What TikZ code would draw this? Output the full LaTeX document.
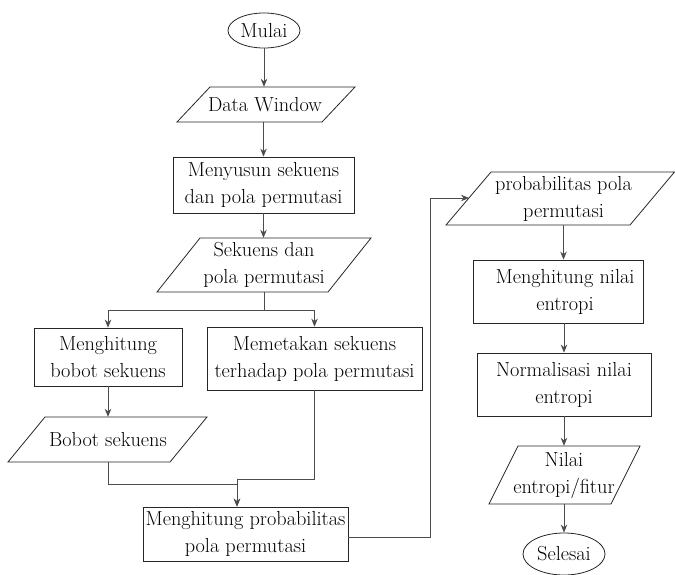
\documentclass[tikz,border=0pt]{standalone}
\usepackage{fontspec}
\usetikzlibrary{arrows.meta,shapes.geometric}
\begin{document}
\begin{tikzpicture}[x=1pt,y=-1pt,
  shp/.style={draw=black!85, line width=0.8pt},
  txt/.style={font=\rmfamily\fontsize{20.3}{27}\selectfont, align=center, inner sep=0pt},
  boxnode/.style={shp, txt, rectangle, minimum width=#1},
  conn/.style={draw=black!70, line width=0.8pt, -{Stealth[length=8pt,width=6.5pt]}},
  plain/.style={draw=black!70, line width=0.8pt}]
\useasboundingbox (0,0) rectangle (675,575);

% terminals
\node[shp, txt, ellipse, minimum width=72pt, minimum height=35pt] (mulai) at (264,30.5) {Mulai};
\node[shp, txt, ellipse, minimum width=82pt, minimum height=42pt] (selesai) at (564,554) {Selesai};

% process boxes
\node[boxnode=181pt, minimum height=56pt] (menyusun) at (263.5,185) {Menyusun sekuens\\dan pola permutasi};
\node[boxnode=148pt, minimum height=58pt] (bobot) at (108,357) {Menghitung\\bobot sekuens};
\node[boxnode=215pt, minimum height=63pt] (petakan) at (314.5,358.5) {Memetakan sekuens\\terhadap pola permutasi};
\node[boxnode=205pt, minimum height=54pt] (prob) at (245.5,534) {Menghitung probabilitas\\pola permutasi};
\node[shp, rectangle, minimum width=170pt, minimum height=63pt] (entropi) at (558,291.5) {};
\node[txt] (entropitxt) at (565,291.5) {Menghitung nilai\\entropi};
\node[boxnode=174pt, minimum height=63pt] (norm) at (564,384.5) {Normalisasi nilai\\entropi};

% data (parallelograms)
\draw[shp] (177,122) -- (210,87) -- (355,87) -- (322,122) -- cycle;
\node[txt, minimum height=35pt] (dw) at (265,104.5) {Data Window};
\draw[shp] (157,292) -- (200,238) -- (371,238) -- (328,292) -- cycle;
\node[txt, minimum height=54pt] (sek) at (264,265) {Sekuens dan\\pola permutasi};
\draw[shp] (8,462) -- (45,417) -- (207,417) -- (170,462) -- cycle;
\node[txt, minimum height=45pt] (bs) at (108,439.5) {Bobot sekuens};
\draw[shp] (446,225) -- (491,172) -- (674.5,172) -- (630,225) -- cycle;
\node[txt, minimum height=53pt] (pp) at (563.5,198.5) {probabilitas pola\\permutasi};
\draw[shp] (489,504) -- (518,446) -- (640,446) -- (611,504) -- cycle;
\node[txt, minimum height=58pt] (nilai) at (564,475) {Nilai\\entropi/fitur};

% junctions
\coordinate (split) at (264,310);
\coordinate (jb) at (237,484);
\coordinate (jm) at (237,479);
\coordinate (r1) at (430,537);
\coordinate (r2) at (430,198);
\coordinate (ppin) at (469,198);

% connectors
\draw[conn] (mulai.south) -- (mulai.south |- dw.north);
\draw[conn] (menyusun.north |- dw.south) -- (menyusun.north);
\draw[conn] (menyusun.south) -- (menyusun.south |- sek.north);
\draw[plain] (sek.south) -- (split);
\draw[conn] (split) -| (bobot.north);
\draw[conn] (split) -| (petakan.north);
\draw[conn] (bobot.south) -- (bobot.south |- bs.north);
\draw[conn] (bs.south) |- (jb) -- (jb |- prob.north);
\draw[conn] (petakan.south) |- (jm) -- (jm |- prob.north);
\draw[conn] (prob.east |- r1) -- (r1) -- (r2) -- (ppin);
\draw[conn] (pp.south) -- (pp.south |- entropi.north);
\draw[conn] (norm.north |- entropi.south) -- (norm.north);
\draw[conn] (norm.south) -- (norm.south |- nilai.north);
\draw[conn] (nilai.south) -- (selesai.north);
\end{tikzpicture}
\end{document}
